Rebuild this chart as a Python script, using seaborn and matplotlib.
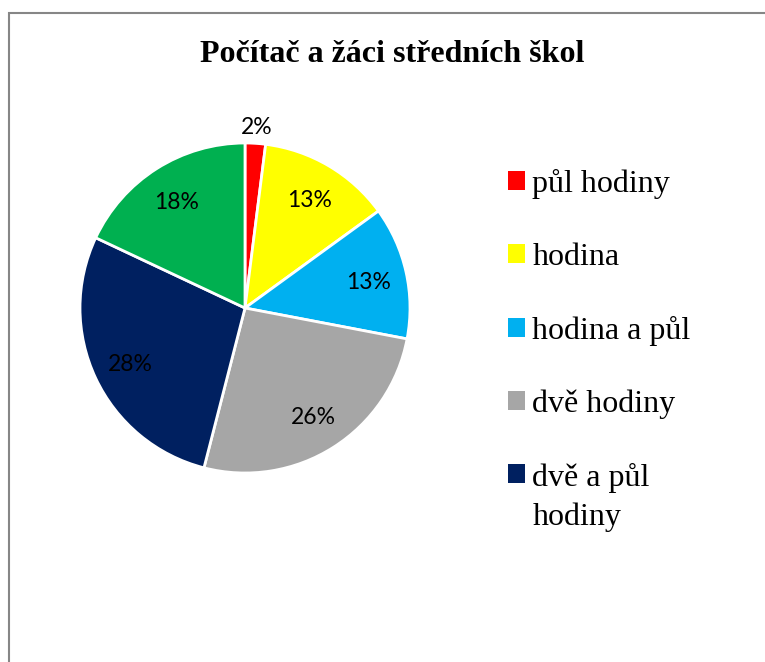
import matplotlib
matplotlib.use("Agg")
import matplotlib.pyplot as plt
from matplotlib.patches import Patch, Rectangle
import numpy as np
import seaborn as sns

sns.set_theme(style="white")
plt.rcParams['font.family'] = ['Liberation Serif', 'DejaVu Serif']
plt.rcParams['text.color'] = 'black'

# Data
title = "Počítač a žáci středních škol"
legend_labels = ["půl hodiny", "hodina", "hodina a půl", "dvě hodiny", "dvě a půl\nhodiny"]
shares = [2, 13, 13, 26, 28, 18]
colors = ["#FF0000", "#FFFF00", "#00B0F0", "#A6A6A6", "#002060", "#00B050"]

W, H = 765, 662
fig = plt.figure(figsize=(W / 100, H / 100), dpi=100)
fig.patch.set_facecolor("white")

# chart frame (left + top visible, right/bottom cut off)
fig.patches.append(Rectangle((8.5 / W, -0.1), 1.2, 1 - 13 / H + 0.1,
                             transform=fig.transFigure, fill=False,
                             edgecolor="#868686", linewidth=1.5))

# pie
cx, cy, r = 245, 308, 165
ax = fig.add_axes([(cx - r) / W, (H - cy - r) / H, 2 * r / W, 2 * r / H])
wedges, texts, autotexts = ax.pie(
    shares, colors=colors, startangle=90, counterclock=False,
    autopct='%.0f%%', pctdistance=0.77,
    wedgeprops=dict(edgecolor="white", linewidth=2),
    textprops=dict(family="Lato", fontsize=16.5, color="black"))
ax.set_xlim(-1, 1)
ax.set_ylim(-1, 1)
ax.set_aspect("equal")

for t in autotexts:
    t.set_va("center_baseline")

# the small slice gets its label outside
w0 = wedges[0]
mid = np.deg2rad((w0.theta1 + w0.theta2) / 2)
autotexts[0].set_position((1.11 * np.cos(mid), 1.11 * np.sin(mid)))

fig.text(392 / W, 1 - 54 / H, title, ha="center", va="center", color="black",
         fontsize=23, fontweight="bold", family="Liberation Serif")

handles = [Patch(facecolor=c, edgecolor="none") for c in colors[:5]]
leg = fig.legend(handles, legend_labels, loc="upper left",
                 bbox_to_anchor=(508 / W, 1 - 169 / H), frameon=False,
                 prop=dict(family="Liberation Serif", size=23),
                 handlelength=0.54, handleheight=0.54, handletextpad=0.22,
                 labelspacing=1.37, borderpad=0, borderaxespad=0)
for t in leg.get_texts():
    t.set_color("black")
    t.set_linespacing(1.45)
# square of the two-line entry sits next to its first line
last = leg.legend_handles[-1]
last.set_y(last.get_y() + 17)

fig.savefig("out.png", dpi=100, facecolor="white")
